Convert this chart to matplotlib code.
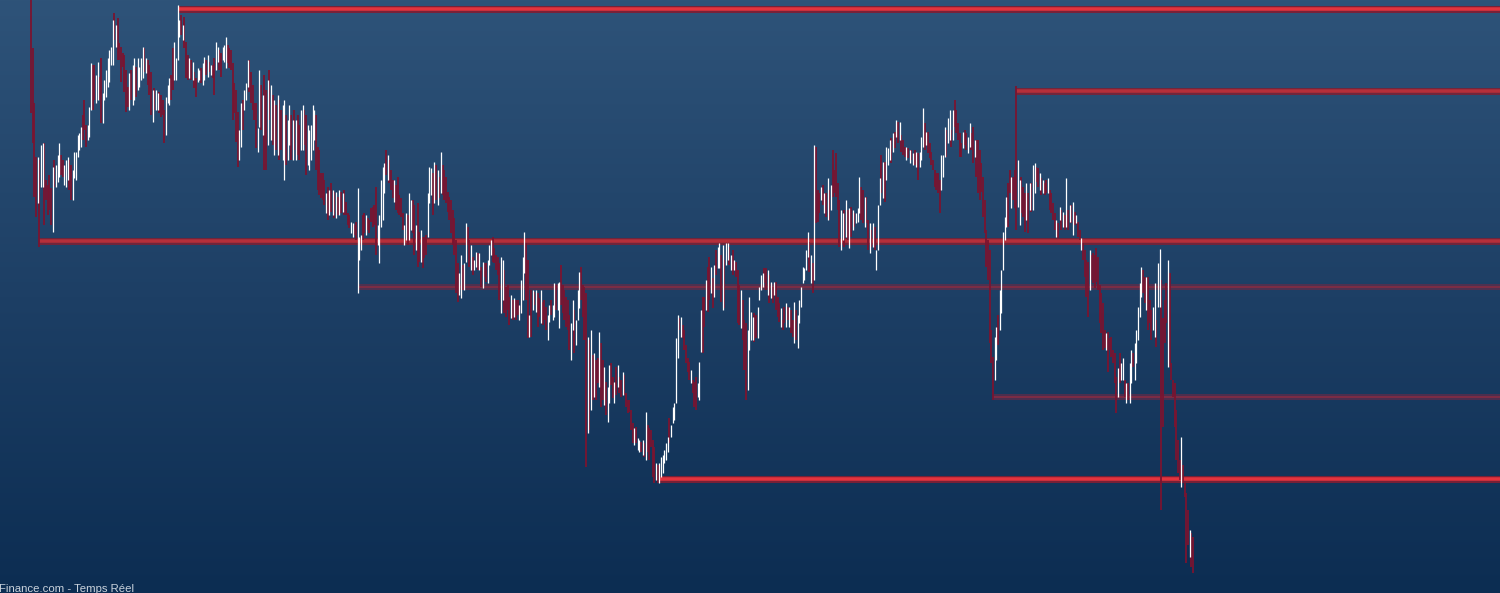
import numpy as np
import matplotlib
matplotlib.use("Agg")
import matplotlib.pyplot as plt
from matplotlib.colors import LinearSegmentedColormap

# ---- données : barres (plus haut / plus bas), une barre par séance ----
highs = [
    600, 552, 497, 443, 443, 440, 455, 457, 457, 420,
    415, 425, 412, 433, 440, 435, 445, 457, 445, 440,
    435, 440, 443, 440, 435, 430, 448, 448, 465, 467,
    473, 485, 500, 475, 475, 493, 537, 535, 535, 525,
    538, 523, 542, 507, 520, 530, 542, 550, 553, 580,
    587, 575, 582, 557, 553, 547, 545, 530, 513, 527,
    530, 535, 542, 533, 542, 533, 542, 553, 552, 542,
    540, 535, 528, 510, 512, 510, 507, 508, 505, 500,
    490, 503, 515, 522, 525, 552, 558, 542, 595, 580,
    585, 575, 583, 558, 545, 542, 540, 538, 528, 522,
    532, 530, 532, 537, 543, 540, 545, 538, 535, 535,
    542, 558, 553, 550, 547, 553, 555, 563, 555, 552,
    550, 537, 517, 510, 488, 470, 497, 500, 510, 517,
    540, 540, 528, 515, 497, 497, 472, 530,
    515, 505, 525, 510, 520, 530, 515, 505, 500, 495,
    505, 500, 490, 495, 500, 485, 480, 495, 485, 480,
    490, 480, 485, 475, 490, 495, 490, 485, 475, 470,
    475, 495, 490, 485, 453, 450, 427, 427, 420, 407,
    413, 410, 417, 410, 408, 408, 403, 410, 408, 407,
    410, 398, 387, 385, 378, 377, 375, 378, 412, 363,
    365, 385, 387, 385, 382, 380, 392, 393, 395, 413,
    375, 385, 420, 433, 437, 450, 445, 440, 430, 420,
    420, 415, 423, 405, 402, 387, 375, 387, 385, 407,
    400, 400, 395, 375, 397, 368, 370, 363, 363, 365,
    407, 433, 432, 427, 438, 435, 430, 423, 448, 435,
    430, 423, 408, 403, 400, 390, 382, 360, 337, 327,
    345, 335, 337, 377, 373, 360, 355, 343, 340, 348,
    347, 347, 333, 338, 337, 337, 340, 355, 360, 363,
    352, 345, 343, 337,
    343, 340, 330, 313, 315, 303, 305, 300, 302, 300,
    300, 295, 320, 343, 368, 357, 340, 285, 310, 310,
    308, 310, 307, 302, 310, 298, 300, 293, 285, 295,
    300, 295, 317, 315, 317, 318, 335, 315, 310, 303,
    300, 285, 277, 300, 290, 280, 310, 328, 333, 315,
    313, 307, 263, 260, 270, 245, 247, 240, 242, 268,
    257, 240, 233, 218, 213, 235, 237, 223, 218, 233,
    235, 223, 220, 228, 225, 207, 200, 200, 190, 177,
    172, 173, 162, 160, 158, 160, 157, 188, 175, 172,
    170, 160, 153, 137, 135, 137, 143, 145, 150, 157,
    163, 182, 175, 193, 197, 262, 285, 282, 283, 275,
    270, 255, 242, 238, 230, 220, 218, 223, 217, 238,
    290, 303, 303, 320, 333, 343, 333, 322, 335, 350,
    353, 357, 345, 355, 340, 357, 357, 353, 345, 350,
    340, 338, 330, 315,
    310, 300, 280, 277, 270, 303, 288, 283, 287, 285,
    293, 313, 325, 327, 332, 332, 330, 325, 318, 313,
    318, 318, 303, 297, 292, 280, 293, 297, 293, 293,
    290, 280, 298, 290, 285, 300, 313, 333, 332, 350,
    368, 358, 345, 337, 455, 453, 410, 407, 413, 415,
    407, 407, 422, 410, 415, 450, 430, 447, 417, 400,
    390, 387, 390, 400, 390, 392, 393, 390, 387, 387,
    392, 423, 413, 410, 403, 403, 380, 377, 370, 377,
    373, 350, 395, 422, 445, 438, 438, 453, 452, 460,
    462, 467, 468, 480, 478, 478, 465, 460, 453, 453,
    452, 450, 450, 447, 450, 448, 447, 448, 463, 492,
    477, 468, 468, 457, 448, 440, 430, 427, 427, 420,
    445, 445, 473, 470, 482, 490, 470, 490, 500, 490,
    477, 467, 457, 468, 470, 467, 463, 477, 467, 473,
    460, 460, 460, 450,
    437, 423, 400, 370, 360, 350, 270, 243, 263, 273,
    285, 310, 330, 368, 383, 403, 417, 430, 423, 423,
    430, 514, 440, 420, 423, 413, 407, 417, 407, 417,
    417, 435, 437, 433, 432, 427, 422, 420, 417, 420,
    422, 410, 407, 397, 387, 380, 377, 393, 390, 388,
    385, 422, 390, 395, 395, 398, 388, 385, 378, 370,
    362, 357, 350, 340, 338, 350, 345, 347, 345, 352,
    343, 315, 307, 297, 270, 267, 268, 262, 263, 250,
    247, 223, 232, 247, 237, 242, 220, 217, 217, 237,
    250, 247, 257, 270, 293, 317, 333, 330, 323, 323,
    323, 300, 290, 293, 317, 280, 337, 351, 320, 282,
    300, 317, 340, 327, 237, 220, 217, 190, 160, 140,
    163, 135, 117, 107, 90, 70, 67, 63,
]

lows = [
    487, 457, 403, 383, 397, 353, 413, 413, 375, 400,
    385, 390, 375, 368, 413, 413, 418, 423, 425, 423,
    415, 413, 420, 410, 400, 400, 422, 420, 443, 450,
    453, 460, 470, 453, 460, 463, 490, 490, 500, 497,
    500, 500, 477, 477, 500, 503, 513, 518, 535, 535,
    560, 553, 540, 540, 518, 533, 508, 488, 493, 490,
    500, 495, 500, 503, 510, 513, 520, 522, 528, 527,
    515, 505, 485, 478, 490, 490, 490, 487, 483, 485,
    457, 465, 497, 495, 500, 510, 520, 520, 540, 563,
    565, 560, 552, 522, 520, 522, 520, 520, 512, 503,
    518, 520, 517, 515, 520, 525, 523, 528, 525, 522,
    505, 530, 538, 530, 523, 540, 538, 532, 537, 532,
    530, 480, 487, 458, 433, 440, 453, 470, 490, 500,
    513, 508, 497, 490, 480, 452, 448, 473,
    470, 465, 430, 430, 455, 480, 460, 455, 445, 450,
    445, 440, 450, 440, 420, 435, 440, 455, 440, 440,
    450, 440, 445, 440, 450, 450, 455, 425, 435, 430,
    440, 450, 460, 430, 410, 405, 402, 400, 395, 387,
    380, 385, 388, 385, 382, 382, 385, 385, 387, 388,
    385, 385, 375, 372, 367, 363, 365, 360, 307, 340,
    350, 360, 367, 365, 370, 367, 378, 373, 375, 345,
    355, 337, 373, 380, 407, 425, 420, 417, 410, 402,
    398, 390, 387, 385, 383, 370, 355, 360, 355, 360,
    370, 367, 345, 350, 333, 338, 338, 332, 342, 345,
    363, 397, 405, 385, 397, 400, 395, 402, 407, 405,
    400, 397, 388, 380, 367, 355, 345, 307, 298, 305,
    302, 310, 310, 338, 355, 333, 330, 325, 330, 333,
    330, 330, 313, 312, 323, 318, 317, 335, 345, 338,
    337, 330, 325, 300,
    287, 300, 287, 283, 290, 275, 282, 280, 283, 280,
    285, 280, 287, 300, 327, 300, 262, 263, 263, 290,
    295, 288, 273, 283, 277, 275, 280, 270, 260, 278,
    285, 280, 283, 290, 290, 272, 295, 287, 280, 273,
    270, 250, 240, 270, 247, 255, 280, 292, 300, 283,
    260, 133, 167, 170, 190, 200, 203, 200, 217, 213,
    193, 200, 195, 185, 178, 197, 215, 202, 197, 205,
    213, 207, 203, 205, 205, 193, 187, 188, 170, 157,
    155, 157, 150, 148, 148, 145, 143, 140, 148, 140,
    153, 123, 117, 120, 117, 117, 123, 127, 137, 140,
    148, 157, 163, 177, 180, 197, 242, 270, 263, 262,
    250, 237, 228, 220, 217, 207, 193, 190, 203, 200,
    248, 247, 273, 290, 288, 300, 307, 292, 303, 325,
    332, 332, 298, 290, 292, 335, 340, 335, 330, 325,
    330, 323, 277, 275,
    272, 260, 230, 200, 210, 250, 260, 260, 258, 262,
    262, 300, 310, 313, 317, 310, 305, 297, 302, 297,
    305, 290, 283, 278, 273, 270, 277, 273, 280, 273,
    267, 263, 257, 260, 252, 277, 293, 317, 320, 330,
    343, 328, 317, 307, 320, 377, 378, 387, 400, 395,
    387, 383, 380, 380, 390, 403, 407, 403, 390, 353,
    350, 360, 353, 363, 360, 352, 363, 370, 373, 377,
    378, 387, 380, 377, 373, 377, 350, 347, 353, 353,
    350, 330, 350, 395, 407, 402, 398, 420, 435, 440,
    437, 448, 452, 463, 457, 460, 448, 445, 443, 440,
    442, 437, 440, 435, 435, 433, 420, 433, 440, 453,
    450, 455, 447, 442, 435, 430, 413, 410, 407, 387,
    410, 423, 443, 443, 457, 460, 453, 460, 473, 467,
    460, 443, 443, 452, 455, 450, 447, 453, 450, 437,
    443, 423, 407, 400,
    408, 383, 367, 333, 320, 257, 237, 200, 220, 240,
    255, 270, 287, 330, 360, 373, 373, 407, 392, 400,
    392, 370, 393, 375, 387, 383, 368, 380, 367, 390,
    388, 390, 407, 418, 413, 410, 405, 407, 405, 407,
    407, 390, 387, 380, 370, 363, 362, 380, 370, 373,
    370, 373, 370, 378, 377, 365, 375, 377, 363, 360,
    350, 340, 323, 303, 283, 310, 320, 317, 312, 318,
    310, 277, 267, 250, 252, 250, 228, 250, 243, 237,
    217, 187, 203, 217, 220, 220, 203, 197, 200, 197,
    217, 233, 220, 237, 260, 283, 303, 307, 297, 290,
    270, 277, 260, 270, 263, 253, 293, 293, 90, 173,
    257, 277, 233, 233, 220, 203, 173, 140, 127, 120,
    113, 117, 103, 37, 55, 43, 33, 27,
]

# w = barre haussière (blanche), r = barre baissière (rouge)
bar_dir = (
    "rrrrwrwwrr" "rrrwrwwwrr" "wwwrrwwwww" "wrrrwwwrrw" "wrrwwwwwww"
    "rwrrrrrrrw" "rwwrwwwwrw" "rrrwrwwrrr" "rwwwrrwwww" "rwrrrwrwrr"
    "wwrwwrwrwr" "rwwrrwwwrr" "rrrrrwwrww" "wrrrrrww"
    "rwrrwrwrwr" "wrrwwrwwrw" "rwrrwwrrww" "wwwrrrrrrw" "rwrwrwrwrw"
    "rrrrwwrrww" "wrrwrrrrrr" "wwwwwrwrrr" "wrrrrrwwrw" "wrrwrrwrrr"
    "wwwrwrwrwr" "rrrrrrrrrw" "wrwwrrwrww" "rwrwrrwwwr" "rrrr"
    "wwrrrrwrwr" "rwwwwrrwrw" "rwrrwrrrww" "rwwrwwrrrr" "rrwwrwwwrr"
    "rrwrwrwrrw" "rrwrwwrrwr" "wrrwrrrrrr" "wrwwrwrwrr" "rrrwrwwwww"
    "wrwwwwwrwr" "rrrrwrrrww" "wrrwrrwrwr" "wwrwrwwrwr" "wrrr"
    "wrrrwwwwrr" "wwwwrrwrwr" "wrrrwrrwrw" "rrwrwwwwww" "wrwrwrrrwr"
    "wrwrwrrrrr" "wwrwrwrwrw" "wwrrwrrwrw" "rwwwrwrwww" "rwrwrwrrrw"
    "rwrwrwrwww" "rwrrrrrrrr" "wwwrwwrwrr" "rrrwrrwwrr" "wrrr"
    "rrrrrrrrww" "rwwwwwrrwr" "rrwwrrrwrw" "rwwrrwrwrr" "wrrrrwrwrw"
    "rwrwrwrwrr" "wrrrrwrrrr" "rrrrrwrrrr" "rrwrwwrwrw" "wrwwwwwrrw"
    "rrrwwrwwrr" "rrwrrrrrrr" "wrrrrwrr"
)

# niveaux de support / résistance : prix et barre d'origine
level_price = [591, 509, 359, 313, 203, 121]
level_start = [88, 591, 5, 196, 577, 377]
level_kind = ["fort", "moyen", "moyen", "faible", "faible", "fort"]

source_label = "Finance.com - Temps Réel"

# ---- figure ----
W, H, DPI = 1500, 593, 100
fig = plt.figure(figsize=(W / DPI, H / DPI), dpi=DPI)
ax = fig.add_axes([0, 0, 1, 1])

n = len(highs)
x = np.arange(n)
bar_step = 1.667          # pixels par barre
x_left = -31 / bar_step
x_right = (W - 31) / bar_step
y_bot, y_top = 7, 600
ax.set_xlim(x_left, x_right)
ax.set_ylim(y_bot, y_top)
ax.axis("off")

# fond dégradé
cmap = LinearSegmentedColormap.from_list("fond", ["#0c2d52", "#1d3f65", "#2e5379"])
grad = np.linspace(0, 1, 256).reshape(-1, 1)
ax.imshow(grad, extent=[x_left, x_right, y_bot, y_top], origin="lower",
          aspect="auto", cmap=cmap, zorder=0)

# niveaux horizontaux
px = 0.72  # 1 pixel en points à 100 dpi
styles = {
    "fort":   dict(glow="#7d1f35", gw=7, ga=0.95, core="#e3333d", cw=3.5, ca=1.0),
    "moyen":  dict(glow="#7a2236", gw=7, ga=0.9, core="#b52f3a", cw=3.5, ca=1.0),
    "faible": dict(glow="#6a2a46", gw=6, ga=0.65, core="#8a2c42", cw=2.0, ca=0.75),
}
for p, s, k in zip(level_price, level_start, level_kind):
    st = styles[k]
    ax.hlines(p, s, x_right, colors=st["glow"], linewidth=st["gw"] * px,
              alpha=st["ga"], zorder=2)
    ax.hlines(p, s, x_right, colors=st["core"], linewidth=st["cw"] * px,
              alpha=st["ca"], zorder=2.1)

# barres
hi = np.array(highs)
lo = np.array(lows)
up = np.array([c == "w" for c in bar_dir])
ax.vlines(x[~up], lo[~up], hi[~up], colors="#7a1430", linewidth=1.9 * px,
          alpha=0.95, zorder=3)
ax.vlines(x[up], lo[up], hi[up], colors="#ffffff", linewidth=1.25 * px,
          zorder=3.1)

# mention de source en bas à gauche
fig.text(-0.0008, 1 - 584.5 / H, source_label, color="#c9d2dc", fontsize=8.2,
         family=["Liberation Sans", "DejaVu Sans"], va="top", ha="left")

fig.savefig("out.png", dpi=DPI)
